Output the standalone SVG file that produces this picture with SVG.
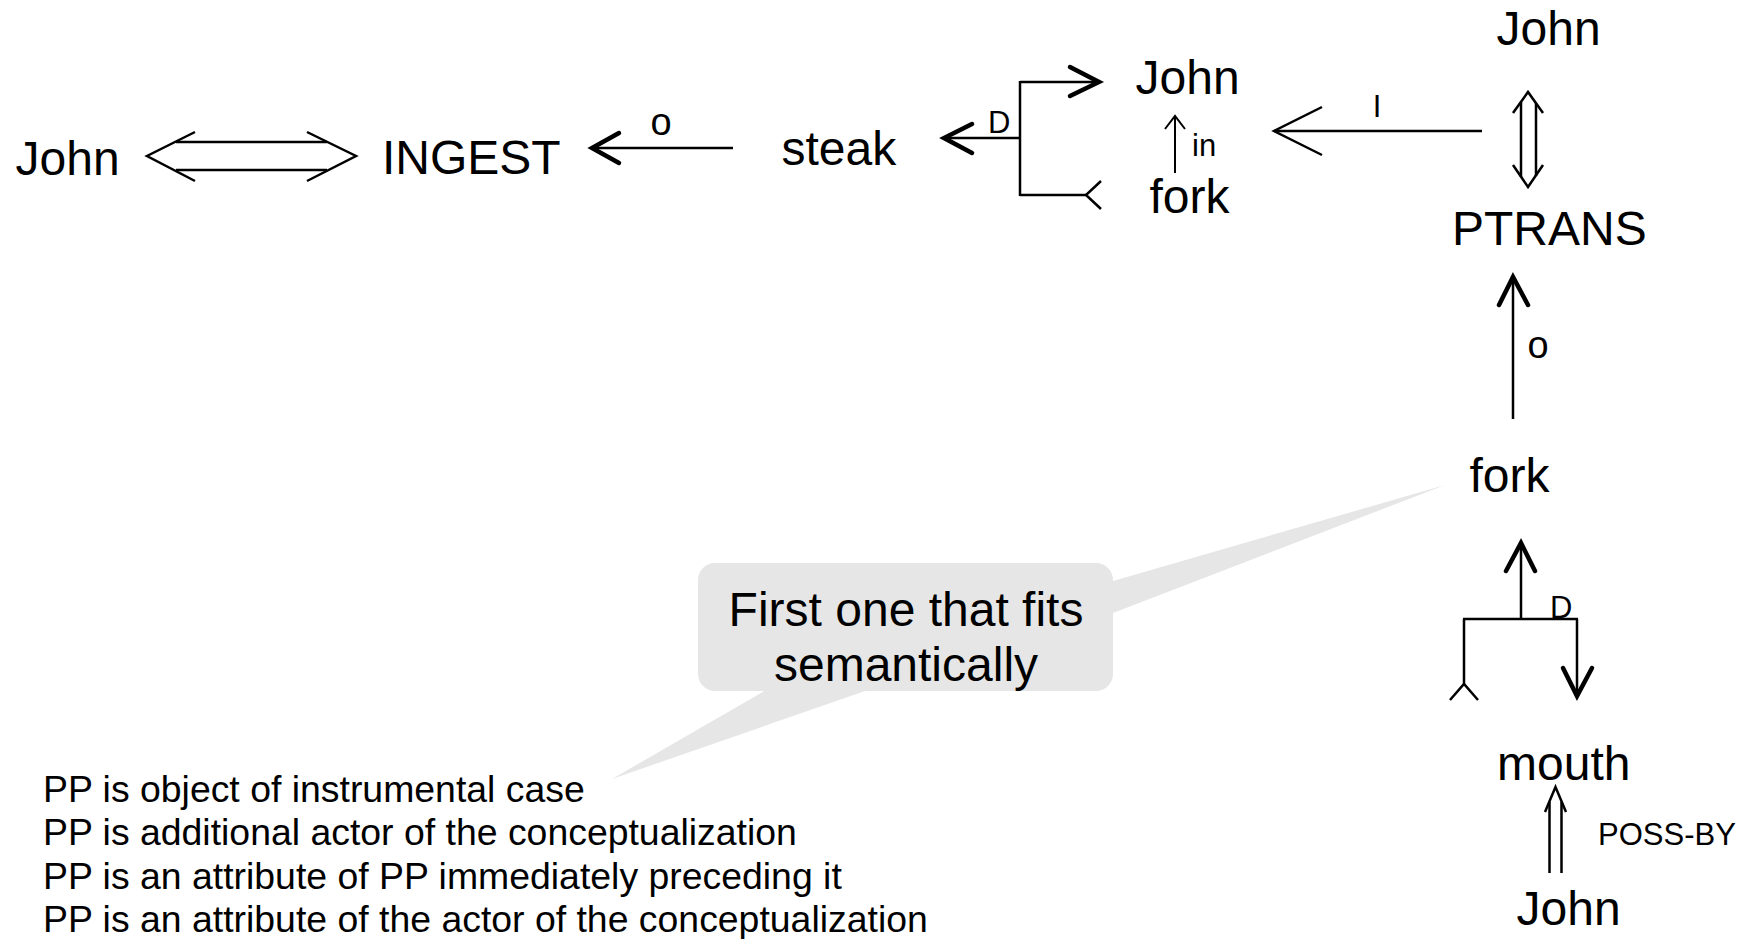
<svg xmlns="http://www.w3.org/2000/svg" width="1754" height="939" viewBox="0 0 1754 939">
<style>
  text { font-family: "Liberation Sans", Arial, sans-serif; fill: #000; }
  .lbl { font-size: 48px; }
  .sm { font-size: 31px; }
  .case { font-size: 38px; }
  .list { font-size: 37.4px; }
  .ln { fill: none; stroke: #000; stroke-width: 2.5; }
  .thin { fill: none; stroke: #000; stroke-width: 2; }
  .head { fill: none; stroke: #000; stroke-width: 4.5; stroke-linecap: round; stroke-linejoin: miter; }
  .callout { fill: #e6e6e6; stroke: none; }
</style>
<rect width="1754" height="939" fill="#fff"/>

<g id="connectors">
  <!-- John <=> INGEST -->
  <g id="c-john-ingest">
    <polyline class="ln" points="195,132 147,156 195,181"/>
    <polyline class="ln" points="307,132 356,156 307,181"/>
    <line class="ln" x1="176" y1="142" x2="327" y2="142"/>
    <line class="ln" x1="176" y1="170" x2="327" y2="170"/>
  </g>
  <!-- INGEST <- steak (o) -->
  <g id="c-steak-ingest">
    <line class="ln" x1="592" y1="148" x2="733" y2="148"/>
    <polyline class="head" points="619,133 592,148 619,163"/>
    <text class="case" x="661" y="135" text-anchor="middle">o</text>
  </g>
  <!-- D bracket: steak <- John / fork -->
  <g id="c-d-top">
    <line class="ln" x1="944" y1="138" x2="1020" y2="138"/>
    <polyline class="head" points="972,124 944,138 972,153"/>
    <line class="ln" x1="1020" y1="81" x2="1020" y2="196"/>
    <line class="ln" x1="1020" y1="82" x2="1099" y2="82"/>
    <polyline class="head" points="1070,67 1099,82 1070,96"/>
    <line class="ln" x1="1020" y1="195" x2="1086" y2="195"/>
    <polyline class="ln" points="1101,181 1086,195 1101,209"/>
    <text class="sm" x="988" y="133">D</text>
  </g>
  <!-- fork -in-> John -->
  <g id="c-in">
    <line class="thin" x1="1175" y1="173" x2="1175" y2="117"/>
    <polyline class="thin" points="1165,129 1175,116 1185,129"/>
    <text class="sm" x="1192" y="156">in</text>
  </g>
  <!-- I arrow -->
  <g id="c-instr">
    <line class="ln" x1="1274" y1="131" x2="1482" y2="131"/>
    <polyline class="ln" points="1322,107 1274,131 1322,155"/>
    <text class="sm" x="1377" y="117" text-anchor="middle">I</text>
  </g>
  <!-- John <=> PTRANS -->
  <g id="c-john-ptrans">
    <polyline class="ln" points="1513,113 1528,92 1543,113"/>
    <polyline class="ln" points="1513,165 1528,187 1543,165"/>
    <line class="ln" x1="1521" y1="102" x2="1521" y2="177"/>
    <line class="ln" x1="1536" y1="103" x2="1536" y2="176"/>
  </g>
  <!-- PTRANS <- fork (o) -->
  <g id="c-fork-ptrans">
    <line class="ln" x1="1513" y1="419" x2="1513" y2="277"/>
    <polyline class="head" points="1499,305 1513,277 1528,305"/>
    <text class="case" x="1538" y="357.5" text-anchor="middle">o</text>
  </g>
  <!-- D bracket bottom -->
  <g id="c-d-bottom">
    <line class="ln" x1="1521" y1="619" x2="1521" y2="543"/>
    <polyline class="head" points="1506,571 1521,543 1535,571"/>
    <line class="ln" x1="1463" y1="619" x2="1578" y2="619"/>
    <line class="ln" x1="1464" y1="619" x2="1464" y2="684"/>
    <polyline class="ln" points="1450,700 1464,684 1478,700"/>
    <line class="ln" x1="1577" y1="619" x2="1577" y2="696"/>
    <polyline class="head" points="1563,668 1577,696 1592,668"/>
    <text class="sm" x="1550" y="618">D</text>
  </g>
  <!-- mouth <= John (POSS-BY) -->
  <g id="c-poss">
    <polyline class="ln" points="1545,812 1555.5,787 1566,812"/>
    <line class="ln" x1="1549.5" y1="802" x2="1549.5" y2="873"/>
    <line class="ln" x1="1561.5" y1="802" x2="1561.5" y2="873"/>
    <text class="sm" x="1598" y="845">POSS-BY</text>
  </g>
</g>

<g id="n-john1"><text class="lbl" x="15.5" y="175">John</text></g>
<g id="n-ingest"><text class="lbl" x="382" y="174">INGEST</text></g>
<g id="n-steak"><text class="lbl" x="781.5" y="165">steak</text></g>
<g id="n-john2"><text class="lbl" x="1135.5" y="94">John</text></g>
<g id="n-fork1"><text class="lbl" x="1149.5" y="213">fork</text></g>
<g id="n-john3"><text class="lbl" x="1496.5" y="45">John</text></g>
<g id="n-ptrans"><text class="lbl" x="1452" y="245">PTRANS</text></g>
<g id="n-fork2"><text class="lbl" x="1469.5" y="492">fork</text></g>
<g id="n-mouth"><text class="lbl" x="1497" y="780">mouth</text></g>
<g id="n-john4"><text class="lbl" x="1516.5" y="925">John</text></g>

<g id="callout">
  <polygon class="callout" points="1113,581 1445,485 1113,613"/>
  <polygon class="callout" points="766,690 612,779 868,690"/>
  <rect class="callout" x="698" y="563" width="415" height="128" rx="17" ry="17"/>
  <text class="lbl" x="906" y="626" text-anchor="middle">First one that fits</text>
  <text class="lbl" x="906" y="681" text-anchor="middle">semantically</text>
</g>

<g id="rules">
  <text class="list" x="43" y="802">PP is object of instrumental case</text>
  <text class="list" x="43" y="845">PP is additional actor of the conceptualization</text>
  <text class="list" x="43" y="889">PP is an attribute of PP immediately preceding it</text>
  <text class="list" x="43" y="932">PP is an attribute of the actor of the conceptualization</text>
</g>
</svg>
